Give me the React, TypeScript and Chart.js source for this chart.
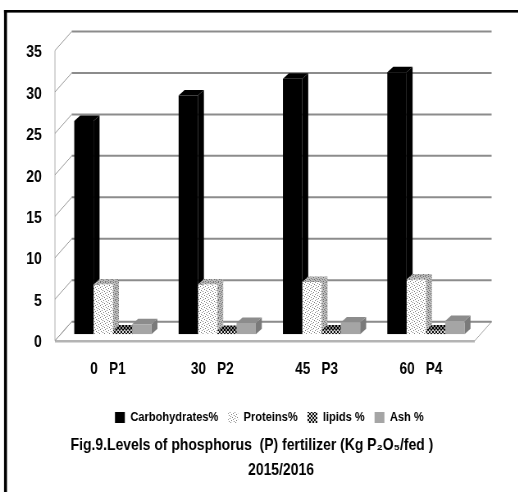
import { useEffect, useRef } from 'react';
import { Chart, registerables } from 'chart.js';

Chart.register(...registerables);

// ---- data ----
const categories = ['0   P1', '30   P2', '45   P3', '60   P4'];
const seriesNames = ['Carbohydrates%', 'Proteins%', 'lipids %', 'Ash %'];
const carbohydrates = [25.7, 28.8, 30.8, 31.6];
const proteins = [6.0, 6.0, 6.3, 6.6];
const lipids = [0.45, 0.4, 0.45, 0.45];
const ash = [1.2, 1.35, 1.4, 1.6];
const yMin = 0;
const yMax = 35;
const yStep = 5;
const captionLines = [
  'Fig.9.Levels of phosphorus  (P) fertilizer (Kg P\u2082O\u2085/fed )         ',
  '      2015/2016',
];

// ---- page geometry ----
const SX = 0.82; // horizontal squeeze of the whole picture
const H = 492;
const CW = Math.round(518 / SX);
const FONT = "'Liberation Sans', Arial, sans-serif";

function makePattern(
  ctx: CanvasRenderingContext2D,
  size: number,
  bg: string,
  fg: string,
  pts: number[][]
) {
  const c = document.createElement('canvas');
  c.width = size;
  c.height = size;
  const g = c.getContext('2d')!;
  g.fillStyle = bg;
  g.fillRect(0, 0, size, size);
  g.fillStyle = fg;
  pts.forEach(([x, y]) => g.fillRect(x, y, 1, 1));
  return ctx.createPattern(c, 'repeat')!;
}

export default function App() {
  const ref = useRef<HTMLCanvasElement>(null);

  useEffect(() => {
    const canvas = ref.current!;
    const ctx = canvas.getContext('2d')!;

    const dots = [
      [0, 0], [3, 1], [1, 3], [4, 4], [2, 5], [5, 2],
    ];
    const denseDots = [
      [0, 0], [2, 0], [4, 1], [1, 2], [3, 3], [5, 3], [0, 4], [2, 5], [4, 5],
    ];
    const cross = [
      [0, 0], [1, 1], [2, 2], [3, 3], [3, 0], [2, 1], [1, 2], [0, 3],
    ];
    const proteinFront = makePattern(ctx, 6, '#ffffff', '#7a7a7a', dots);
    const proteinFace = makePattern(ctx, 6, '#bdbdbd', '#6e6e6e', denseDots);
    const lipidFront = makePattern(ctx, 4, '#d8d8d8', '#111111', cross);
    const lipidFace = makePattern(ctx, 4, '#8a8a8a', '#000000', cross);

    const frontFills: any[] = ['#000000', proteinFront, lipidFront, '#a5a5a5'];
    const topFills: any[] = ['#000000', proteinFace, lipidFace, '#8c8c8c'];
    const sideFills: any[] = ['#000000', proteinFace, lipidFace, '#7a7a7a'];

    const BAR_DX = 7.3;
    const BAR_DY = 5.5;
    const WALL_DX = 20.5;
    const FRONT_Y = 6.5;
    const BACK_Y = -12.5;

    const depthPlugin = {
      id: 'depth3d',
      beforeDraw(chart: any) {
        const c = chart.ctx;
        c.save();
        c.fillStyle = '#ffffff';
        c.fillRect(0, 0, chart.width, chart.height);
        c.fillStyle = '#000000';
        c.fillRect(4.9, 10, chart.width, 2.6);
        c.fillRect(4.9, 10, 3.6, chart.height);
        c.restore();
      },
      beforeDatasetsDraw(chart: any) {
        const c = chart.ctx;
        const area = chart.chartArea;
        const ys = chart.scales.y;
        const fx0 = area.left - 7;
        const fx1 = area.right - 4;
        const bx0 = fx0 + WALL_DX;
        const bx1 = fx1 + WALL_DX;
        const p0 = ys.getPixelForValue(yMin);
        const pTop = ys.getPixelForValue(yMax);
        c.save();
        // floor
        c.beginPath();
        c.moveTo(fx0, p0 + FRONT_Y);
        c.lineTo(fx1, p0 + FRONT_Y);
        c.lineTo(bx1, p0 + BACK_Y);
        c.lineTo(bx0, p0 + BACK_Y);
        c.closePath();
        c.fillStyle = '#ffffff';
        c.fill();
        c.strokeStyle = '#a8a8a8';
        c.lineWidth = 1;
        c.stroke();
        c.beginPath();
        c.moveTo(fx0, p0 + FRONT_Y + 0.5);
        c.lineTo(fx1, p0 + FRONT_Y + 0.5);
        c.lineWidth = 2.5;
        c.strokeStyle = '#b4b4b4';
        c.stroke();
        // left wall front edge
        c.beginPath();
        c.moveTo(fx0, pTop + FRONT_Y);
        c.lineTo(fx0, p0 + FRONT_Y);
        c.lineWidth = 1;
        c.strokeStyle = '#b0b0b0';
        c.stroke();
        // gridlines on back wall + connectors
        for (let v = yMin; v <= yMax; v += yStep) {
          const p = ys.getPixelForValue(v);
          c.beginPath();
          c.moveTo(bx0, p + BACK_Y);
          c.lineTo(bx1, p + BACK_Y);
          c.lineWidth = 2;
          c.strokeStyle = '#8c8c8c';
          c.stroke();
          c.beginPath();
          c.moveTo(fx0, p + FRONT_Y);
          c.lineTo(bx0, p + BACK_Y);
          c.lineWidth = 1;
          c.strokeStyle = '#9a9a9a';
          c.stroke();
        }
        // top & side faces of bars
        const n = chart.data.labels.length;
        const nd = chart.data.datasets.length;
        for (let i = 0; i < n; i++) {
          for (let d = 0; d < nd; d++) {
            const el = chart.getDatasetMeta(d).data[i];
            if (!el) continue;
            const { x, y, base, width } = el.getProps(['x', 'y', 'base', 'width'], true);
            const L = x - width / 2;
            const R = x + width / 2;
            c.beginPath();
            c.moveTo(R, y);
            c.lineTo(R + BAR_DX, y - BAR_DY);
            c.lineTo(R + BAR_DX, base - BAR_DY);
            c.lineTo(R, base);
            c.closePath();
            c.fillStyle = sideFills[d];
            c.fill();
            c.beginPath();
            c.moveTo(L, y);
            c.lineTo(L + BAR_DX, y - BAR_DY);
            c.lineTo(R + BAR_DX, y - BAR_DY);
            c.lineTo(R, y);
            c.closePath();
            c.fillStyle = topFills[d];
            c.fill();
          }
        }
        c.restore();
      },
    };

    const series = [carbohydrates, proteins, lipids, ash];

    const chart = new Chart(canvas, {
      type: 'bar',
      data: {
        labels: categories,
        datasets: series.map((vals, d) => ({
          label: seriesNames[d],
          data: vals,
          backgroundColor: frontFills[d],
          borderWidth: 0,
          categoryPercentage: 0.74,
          barPercentage: 1.0,
        })),
      },
      options: {
        responsive: false,
        animation: false,
        devicePixelRatio: 1,
        layout: {
          padding: { left: 0, right: CW - 583, top: 44, bottom: 9.5 },
        },
        scales: {
          x: {
            grid: { display: false, drawTicks: false },
            border: { display: false },
            ticks: {
              color: '#000',
              font: { family: FONT, size: 16.5, weight: 'bold' },
              padding: 25,
              labelOffset: -6,
              maxRotation: 0,
            },
            afterFit: (s: any) => {
              s.height = 64.5;
            },
          },
          y: {
            min: yMin,
            max: yMax,
            grid: { display: false, drawTicks: false },
            border: { display: false },
            ticks: {
              stepSize: yStep,
              color: '#000',
              font: { family: FONT, size: 17, weight: 'bold' },
              padding: 23,
              labelOffset: 8.5,
            },
            afterFit: (s: any) => {
              s.width = 74;
            },
          },
        },
        plugins: {
          tooltip: { enabled: false },
          legend: {
            display: true,
            position: 'bottom',
            fullSize: false,
            labels: {
              color: '#000',
              font: { family: FONT, size: 13.5, weight: 'bold' },
              boxWidth: 12,
              boxHeight: 11,
              padding: 12,
            },
          },
          title: {
            display: true,
            position: 'bottom',
            fullSize: false,
            text: captionLines,
            color: '#000',
            font: { family: FONT, size: 17, weight: 'bold', lineHeight: 1.45 },
            padding: { top: -1, bottom: 0 },
          },
        },
      } as any,
      plugins: [depthPlugin],
    });

    return () => chart.destroy();
  }, []);

  return (
    <div style={{ position: 'fixed', left: 0, top: 0, width: 518, height: H, overflow: 'hidden', background: '#fff' }}>
      <div style={{ width: CW, height: H, transform: `scaleX(${SX})`, transformOrigin: '0 0' }}>
        <canvas ref={ref} width={CW} height={H} style={{ display: 'block', width: CW, height: H }} />
      </div>
    </div>
  );
}
